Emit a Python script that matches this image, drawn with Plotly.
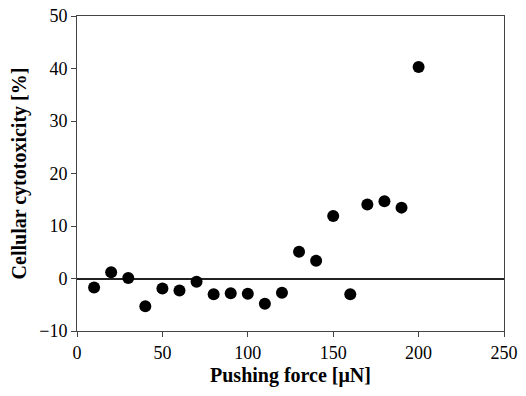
import plotly.graph_objects as go

force = [10, 20, 30, 40, 50, 60, 70, 80, 90, 100, 110, 120, 130, 140, 150, 160, 170, 180, 190, 200]
cytotox = [-1.7, 1.2, 0.1, -5.3, -1.9, -2.3, -0.6, -3.0, -2.8, -2.9, -4.8, -2.7, 5.1, 3.4, 11.9, -3.0, 14.1, 14.7, 13.5, 40.3]

x_ticks = [0, 50, 100, 150, 200, 250]
y_ticks = [-10, 0, 10, 20, 30, 40, 50]

fig = go.Figure()
fig.add_trace(go.Scatter(
    x=force, y=cytotox, mode="markers",
    marker=dict(color="black", size=12),
    showlegend=False,
))

font_family = "Liberation Serif, Times New Roman, serif"
fig.update_layout(
    width=510, height=380,
    margin=dict(l=69, r=14, t=8, b=57),
    paper_bgcolor="white", plot_bgcolor="white",
    font=dict(family=font_family, size=18, color="black"),
    xaxis=dict(
        range=[0, 250], tickvals=x_ticks, ticks="outside", ticklen=5,
        tickcolor="#444", showline=True, linecolor="#444", linewidth=1,
        mirror=True, showgrid=False, zeroline=False, automargin=False,
        ticklabeloverflow="allow",
        title=dict(text="<b>Pushing force [μN]</b>", font=dict(size=20), standoff=6),
    ),
    yaxis=dict(
        range=[-10, 50], tickvals=y_ticks, ticks="outside", ticklen=5,
        tickcolor="#444", showline=True, linecolor="#444", linewidth=1,
        mirror=True, showgrid=False, zeroline=True, zerolinecolor="#222",
        zerolinewidth=1.5, automargin=False, ticklabeloverflow="allow",
        title=dict(text="<b>Cellular cytotoxicity [%]</b>", font=dict(size=20), standoff=12),
    ),
)

fig.write_html("out.html")
